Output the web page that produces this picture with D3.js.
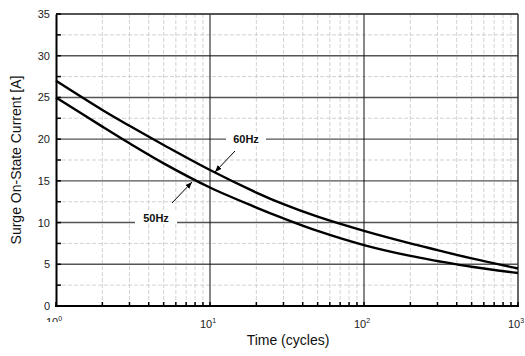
<!DOCTYPE html>
<html>
<head>
<meta charset="utf-8">
<script src="https://cdn.jsdelivr.net/npm/d3@7"></script>
<style>
  body { margin: 0; background: #fff; }
  svg { display: block; font-family: "Liberation Sans", Arial, sans-serif; }
</style>
</head>
<body>
<div id="chart"></div>
<script>
// surge current vs number of cycles
const cycles = [1, 2, 3, 5, 10, 20, 30, 50, 100, 200, 300, 500, 1000]
const current60 = [27, 23.5, 21.6, 19.3, 16.3, 13.6, 12.2, 10.7, 9.0, 7.5, 6.7, 5.7, 4.5]
const current50 = [25, 21.5, 19.5, 17.1, 14.2, 11.8, 10.5, 9.0, 7.3, 6.0, 5.4, 4.7, 3.95]

const yTicks = [0, 5, 10, 15, 20, 25, 30, 35]
const decades = [1, 10, 100, 1000]

const width = 525
const height = 356
const margin = { top: 14, right: 7, bottom: 50, left: 56 }

const svg = d3.select("#chart")
  .append("svg")
  .attr("width", width)
  .attr("height", height)

const x = d3.scaleLog()
  .domain([1, 1000])
  .range([margin.left, width - margin.right])

const y = d3.scaleLinear()
  .domain([0, 35])
  .range([height - margin.bottom, margin.top])

const g = svg.append("g")

// minor grid
const minorX = []
decades.slice(0, 3).forEach(d => {
  for (let k = 2; k <= 9; k++) minorX.push(d * k)
})

g.selectAll(".minor-x")
  .data(minorX)
  .enter()
  .append("line")
  .attr("x1", d => x(d)).attr("x2", d => x(d))
  .attr("y1", y(35)).attr("y2", y(0))
  .attr("stroke", "#c8c8c8")
  .attr("stroke-width", 0.8)
  .attr("stroke-dasharray", "4,2")

const minorY = d3.range(2.5, 35, 5)
g.selectAll(".minor-y")
  .data(minorY)
  .enter()
  .append("line")
  .attr("x1", x(1)).attr("x2", x(1000))
  .attr("y1", d => y(d)).attr("y2", d => y(d))
  .attr("stroke", "#c8c8c8")
  .attr("stroke-width", 0.8)
  .attr("stroke-dasharray", "4,2")

// major grid
g.selectAll(".major-y")
  .data(yTicks.slice(1))
  .enter()
  .append("line")
  .attr("x1", x(1)).attr("x2", x(1000))
  .attr("y1", d => y(d)).attr("y2", d => y(d))
  .attr("stroke", "#555")
  .attr("stroke-width", 1.4)

g.selectAll(".major-x")
  .data(decades.slice(1, 3))
  .enter()
  .append("line")
  .attr("x1", d => x(d)).attr("x2", d => x(d))
  .attr("y1", y(35)).attr("y2", y(0))
  .attr("stroke", "#111")
  .attr("stroke-width", 1)

// label boxes hide the grid behind them
const labels = [
  { text: "60Hz", cx: 246, cy: 139, w: 40, tip: [215, 172], from: [235, 151] },
  { text: "50Hz", cx: 156, cy: 218, w: 42, tip: [192, 182], from: [172, 203] }
]

labels.forEach(l => {
  g.append("rect")
    .attr("x", l.cx - l.w / 2)
    .attr("y", l.cy - 7)
    .attr("width", l.w)
    .attr("height", 13)
    .attr("fill", "#fff")
})

// frame
svg.append("line")
  .attr("x1", x(1)).attr("x2", x(1000))
  .attr("y1", y(35)).attr("y2", y(35))
  .attr("stroke", "#444").attr("stroke-width", 1.5)
svg.append("line")
  .attr("x1", x(1000)).attr("x2", x(1000))
  .attr("y1", y(35)).attr("y2", y(0))
  .attr("stroke", "#333").attr("stroke-width", 1.5)

// curves
const line = d3.line()
  .x(d => x(d[0]))
  .y(d => y(d[1]))
  .curve(d3.curveCatmullRom.alpha(0.5))

const series = [current60, current50]
svg.selectAll(".curve")
  .data(series)
  .enter()
  .append("path")
  .attr("d", s => line(cycles.map((c, i) => [c, s[i]])))
  .attr("fill", "none")
  .attr("stroke", "#000")
  .attr("stroke-width", 2.4)

// axes
const yAxis = d3.axisLeft(y)
  .tickValues(yTicks)
  .tickSize(0)
  .tickPadding(6)

svg.append("g")
  .attr("transform", `translate(${margin.left},0)`)
  .call(yAxis)
  .call(a => a.select(".domain").attr("stroke", "#000").attr("stroke-width", 2))
  .call(a => a.selectAll("text").attr("font-size", 11).attr("fill", "#222").attr("font-family", "Liberation Sans, Arial, sans-serif"))

// inner ticks on the left axis
svg.selectAll(".ytick")
  .data(d3.range(0, 35.1, 2.5))
  .enter()
  .append("line")
  .attr("x1", x(1)).attr("x2", x(1) + 5)
  .attr("y1", d => y(d)).attr("y2", d => y(d))
  .attr("stroke", "#000").attr("stroke-width", 1.5)

svg.append("line")
  .attr("x1", x(1) - 1).attr("x2", x(1000) + 1)
  .attr("y1", y(0)).attr("y2", y(0))
  .attr("stroke", "#000").attr("stroke-width", 2)

svg.selectAll(".xtick")
  .data(minorX.concat(decades))
  .enter()
  .append("line")
  .attr("x1", d => x(d)).attr("x2", d => x(d))
  .attr("y1", y(0)).attr("y2", y(0) - 4)
  .attr("stroke", "#000").attr("stroke-width", 1.5)

// the first decade label is cut off in the original
svg.append("clipPath")
  .attr("id", "cut")
  .append("rect")
  .attr("x", 0).attr("y", 0)
  .attr("width", width).attr("height", y(0) + 16)

// decade labels with superscript exponent
const xLab = svg.selectAll(".xlab")
  .data(decades)
  .enter()
  .append("text")
  .attr("x", d => x(d) - 2)
  .attr("y", d => d === 1 ? y(0) + 20 : y(0) + 22)
  .attr("text-anchor", "middle")
  .attr("font-size", 11)
  .attr("fill", "#222")
  .attr("clip-path", d => d === 1 ? "url(#cut)" : null)

xLab.append("tspan").text("10")
xLab.append("tspan")
  .attr("dy", -5)
  .attr("font-size", 7)
  .text(d => Math.round(Math.log10(d)))

// axis titles
svg.append("text")
  .attr("x", (x(1) + x(1000)) / 2 + 1)
  .attr("y", 345)
  .attr("text-anchor", "middle")
  .attr("font-size", 14)
  .attr("fill", "#111")
  .text("Time (cycles)")

svg.append("text")
  .attr("transform", `translate(21,${(y(0) + y(35)) / 2}) rotate(-90)`)
  .attr("text-anchor", "middle")
  .attr("font-size", 14)
  .attr("fill", "#111")
  .text("Surge On-State Current [A]")

// annotations
svg.append("defs").append("marker")
  .attr("id", "arrow")
  .attr("viewBox", "0 0 10 10")
  .attr("refX", 10).attr("refY", 5)
  .attr("markerWidth", 7).attr("markerHeight", 7)
  .attr("orient", "auto")
  .append("path")
  .attr("d", "M0,1 L10,5 L0,9 Z")
  .attr("fill", "#000")

labels.forEach(l => {
  svg.append("text")
    .attr("x", l.cx)
    .attr("y", l.cy + 4)
    .attr("text-anchor", "middle")
    .attr("font-size", 11)
    .attr("font-weight", "bold")
    .attr("fill", "#111")
    .text(l.text)

  svg.append("line")
    .attr("x1", l.from[0]).attr("y1", l.from[1])
    .attr("x2", l.tip[0]).attr("y2", l.tip[1])
    .attr("stroke", "#000")
    .attr("stroke-width", 1)
    .attr("marker-end", "url(#arrow)")
})
</script>
</body>
</html>
